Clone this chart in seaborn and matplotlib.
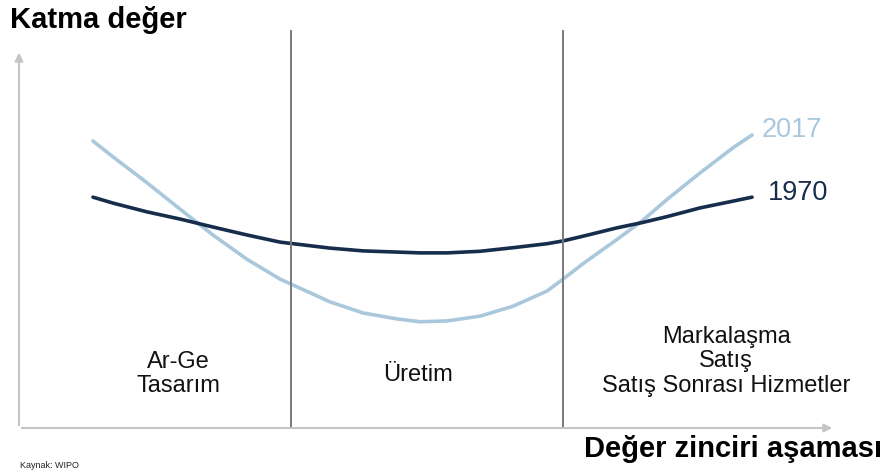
import matplotlib
matplotlib.use("Agg")
import pandas as pd
import seaborn as sns
import matplotlib.pyplot as plt

# Values (x: value-chain stage, y: value added, 0-100)
stage_x = [0.272, 0.346, 0.471, 0.592, 0.713, 0.838, 0.960, 1.143, 1.265, 1.390, 1.474, 1.574,
           1.695, 1.816, 1.941, 2.000, 2.074, 2.199, 2.290, 2.382, 2.504, 2.625, 2.695]
value_2017 = [72.1, 68.1, 61.6, 55.0, 48.5, 42.4, 37.4, 31.7, 28.9, 27.4, 26.7, 26.9,
              28.1, 30.6, 34.4, 37.4, 41.3, 47.4, 52.0, 57.4, 64.1, 70.4, 73.6]
value_1970 = [58.0, 56.5, 54.3, 52.5, 50.5, 48.5, 46.7, 45.2, 44.5, 44.2, 44.0, 44.0,
              44.4, 45.3, 46.3, 47.0, 48.2, 50.3, 51.6, 53.1, 55.3, 57.0, 58.0]
stage_bounds = [1, 2]
stage_labels = ["Ar-Ge\nTasarım", "Üretim", "Markalaşma\nSatış\nSatış Sonrası Hizmetler"]
series_names = ["2017", "1970"]

colors = {"2017": "#a9c8dc", "1970": "#172d4c"}

df = pd.concat([
    pd.DataFrame({"x": stage_x, "y": value_2017, "yil": "2017"}),
    pd.DataFrame({"x": stage_x, "y": value_1970, "yil": "1970"}),
])

sns.set_style("white")
plt.rcParams["font.family"] = ["Liberation Sans", "DejaVu Sans"]

fig = plt.figure(figsize=(8.91, 4.74), dpi=100)
ax = fig.add_axes([19 / 891, 46 / 474, 816 / 891, 398 / 474])

sns.lineplot(data=df, x="x", y="y", hue="yil", palette=colors, linewidth=2.6,
             legend=False, ax=ax, sort=False)

for b in stage_bounds:
    ax.axvline(b, color="#7a7a7a", linewidth=1.4)

ax.set_xlim(0, 3)
ax.set_ylim(0, 100)
ax.set_xticks([])
ax.set_yticks([])
ax.set_xlabel("")
ax.set_ylabel("")
for s in ax.spines.values():
    s.set_visible(False)

# axis arrows
arrow = dict(arrowstyle="-|>", color="#c4c4c4", lw=1.5, mutation_scale=12)
ax.annotate("", xy=(0, 95), xytext=(0, 0), arrowprops=arrow, annotation_clip=False)
ax.annotate("", xy=(3.0, 0), xytext=(0, 0), arrowprops=arrow, annotation_clip=False)

# stage labels
ax.text(0.585, 13.6, stage_labels[0], ha="center", va="center", fontsize=17,
        color="#111111", linespacing=1.15)
ax.text(1.467, 13.3, stage_labels[1], ha="center", va="center", fontsize=17,
        color="#111111")
ax.text(2.6, 16.8, stage_labels[2], ha="center", va="center", fontsize=17,
        color="#111111", linespacing=1.15)

# series labels
ax.text(2.73, 74.9, series_names[0], ha="left", va="center", fontsize=19.5,
        color=colors["2017"])
ax.text(2.754, 59.0, series_names[1], ha="left", va="center", fontsize=19.5,
        color=colors["1970"])

fig.text(10 / 891, 1 - 20 / 474, "Katma değer", ha="left", va="center",
         fontsize=21, fontweight="bold", color="#000000")
fig.text(882 / 891, 1 - 449 / 474, "Değer zinciri aşaması", ha="right", va="center",
         fontsize=21, fontweight="bold", color="#000000")
fig.text(20 / 891, 1 - 465 / 474, "Kaynak: WIPO", ha="left", va="center",
         fontsize=6.5, color="#222222")

fig.savefig("out.png", dpi=100)
